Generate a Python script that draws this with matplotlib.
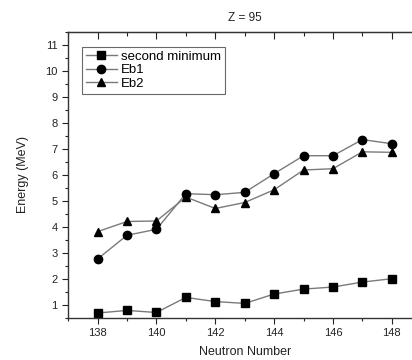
import matplotlib
matplotlib.use('Agg')
import matplotlib.pyplot as plt
from matplotlib.ticker import MultipleLocator

plt.rcParams['font.family'] = ['Liberation Sans', 'DejaVu Sans']

neutrons = [138, 139, 140, 141, 142, 143, 144, 145, 146, 147, 148]
second_min = [0.68, 0.78, 0.70, 1.28, 1.12, 1.05, 1.41, 1.60, 1.68, 1.87, 2.00]
eb1 = [2.76, 3.67, 3.90, 5.27, 5.23, 5.32, 6.04, 6.73, 6.73, 7.35, 7.19]
eb2 = [3.81, 4.20, 4.22, 5.14, 4.70, 4.93, 5.42, 6.18, 6.23, 6.88, 6.86]

fig = plt.figure(figsize=(4.12, 3.6), dpi=100)
ax = fig.add_axes([0.1655, 0.1175, 0.857, 0.7945])

line_c = '#7a7a7a'
ax.plot(neutrons, second_min, '-', color=line_c, lw=1.0, marker='s', ms=5.5,
        mfc='black', mec='black', label='second minimum')
ax.plot(neutrons, eb1, '-', color=line_c, lw=1.0, marker='o', ms=6,
        mfc='black', mec='black', label='Eb1')
ax.plot(neutrons, eb2, '-', color=line_c, lw=1.0, marker='^', ms=6,
        mfc='black', mec='black', label='Eb2')

ax.set_xlim(137, 149)
ax.set_ylim(0.5, 11.5)
ax.xaxis.set_major_locator(MultipleLocator(2))
ax.xaxis.set_minor_locator(MultipleLocator(1))
ax.yaxis.set_major_locator(MultipleLocator(1))
ax.yaxis.set_minor_locator(MultipleLocator(0.5))
ax.set_yticks([1, 2, 3, 4, 5, 6, 7, 8, 9, 10, 11])

for s in ax.spines.values():
    s.set_color('#333333')
    s.set_linewidth(1.0)

ax.tick_params(axis='both', which='major', direction='out', length=4,
               width=0.8, labelsize=8, colors='#222222')
ax.tick_params(axis='both', which='minor', direction='out', length=2.5,
               width=0.8, colors='#222222')

# ticks on top point inward, bottom outward: secondary axis for the top
ax.tick_params(axis='x', which='both', top=False)
sec = ax.secondary_xaxis('top')
sec.xaxis.set_major_locator(MultipleLocator(2))
sec.xaxis.set_minor_locator(MultipleLocator(1))
sec.tick_params(which='major', direction='in', length=5, width=0.8,
                labeltop=False, colors='#222222')
sec.tick_params(which='minor', direction='in', length=3, width=0.8,
                colors='#222222')
sec.spines['top'].set_color('#333333')

ax.set_xlabel('Neutron Number', fontsize=9, color='#222222', labelpad=6)
ax.set_ylabel('Energy (MeV)', fontsize=9, color='#222222', labelpad=12)
ax.set_title('Z = 95', fontsize=8.5, color='#222222', pad=8)

leg = ax.legend(loc='upper left', fontsize=9.5, frameon=True, fancybox=False,
                edgecolor='#444444', borderpad=0.3, handlelength=2.4,
                labelspacing=0.1, handletextpad=0.3, borderaxespad=0,
                bbox_to_anchor=(0.038, 0.948))
leg.get_frame().set_linewidth(0.8)

fig.savefig('out.png', dpi=100)
